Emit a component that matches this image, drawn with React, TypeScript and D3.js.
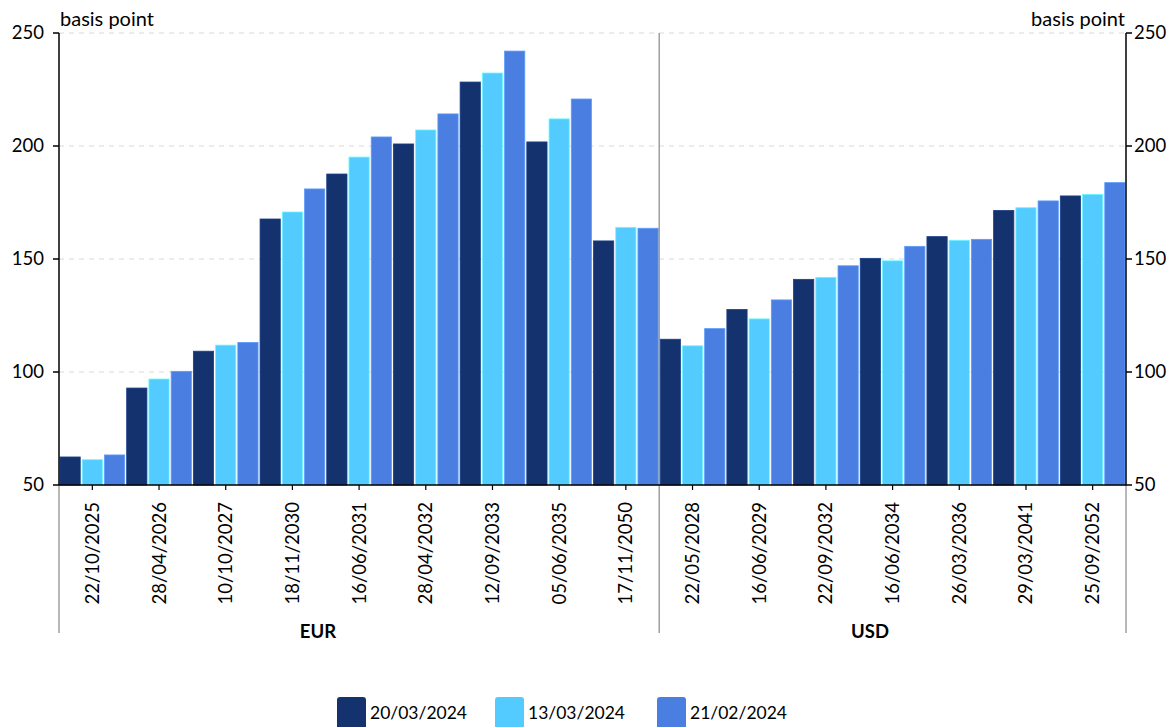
import React from "react";
import * as d3 from "d3";

const eurCategories = ["22/10/2025", "28/04/2026", "10/10/2027", "18/11/2030", "16/06/2031", "28/04/2032", "12/09/2033", "05/06/2035", "17/11/2050"];
const usdCategories = ["22/05/2028", "16/06/2029", "22/09/2032", "16/06/2034", "26/03/2036", "29/03/2041", "25/09/2052"];
const groupNames = ["EUR", "USD"];
const seriesNames = ["20/03/2024", "13/03/2024", "21/02/2024"];
const seriesColors = ["#14326e", "#54cbff", "#4a7ee0"];

const eur20Mar = [62.4, 92.9, 109.2, 167.7, 187.6, 200.9, 228.3, 201.8, 158];
const eur13Mar = [61.2, 96.9, 111.9, 170.8, 195.1, 207.1, 232.3, 212, 164];
const eur21Feb = [63.3, 100.3, 113.1, 181, 204, 214.2, 242, 220.8, 163.6];
const usd20Mar = [114.5, 127.7, 141, 150.3, 159.9, 171.5, 177.9];
const usd13Mar = [111.6, 123.5, 141.9, 149.2, 158.3, 172.7, 178.6];
const usd21Feb = [119.2, 131.9, 147, 155.6, 158.7, 175.7, 183.8];
const yTicks = [50, 100, 150, 200, 250];

export default function App() {
  const W = 1176, H = 727;
  const left = 59, right = 1126, top = 33, bottom = 485, groupBottom = 633;
  const font = "Lato, 'Open Sans', sans-serif";

  const rows = [
    ...eurCategories.map((c, i) => ({ key: "EUR|" + c, label: c, vals: [eur20Mar[i], eur13Mar[i], eur21Feb[i]] })),
    ...usdCategories.map((c, i) => ({ key: "USD|" + c, label: c, vals: [usd20Mar[i], usd13Mar[i], usd21Feb[i]] })),
  ];
  const x = d3.scaleBand<string>().domain(rows.map(r => r.key)).range([left, right]).padding(0);
  const xs = d3.scaleBand<number>().domain([0, 1, 2]).range([0, x.bandwidth()]).padding(0);
  const y = d3.scaleLinear().domain([50, 250]).range([bottom, top]);

  const divX = x("USD|" + usdCategories[0]) as number;
  const groupLabelX = [318, 870];

  return (
    <svg width={W} height={H} style={{ position: "absolute", left: 0, top: 0, background: "#fff" }} fontFamily={font}>
      {yTicks.filter(t => t > 50).map(t => (
        <line key={"g" + t} x1={left} x2={right} y1={y(t)} y2={y(t)} stroke="#d9d9d9" strokeDasharray="5,5" strokeWidth={1} />
      ))}
      {rows.map(r => (
        <g key={r.key} transform={`translate(${x(r.key)},0)`}>
          {r.vals.map((v, i) => (
            <rect key={i} x={(xs(i) as number) + 1} width={xs.bandwidth() - 2} y={y(v)} height={y(50) - y(v)}
              fill={seriesColors[i]} stroke={d3.color(seriesColors[i])!.brighter(0.6).toString()} strokeWidth={0.8} />
          ))}
        </g>
      ))}
      <line x1={left} x2={left} y1={bottom} y2={groupBottom} stroke="#888" strokeWidth={1.2} />
      <line x1={divX} x2={divX} y1={top} y2={groupBottom} stroke="#888" strokeWidth={1.2} />
      <line x1={right} x2={right} y1={bottom} y2={groupBottom} stroke="#888" strokeWidth={1.2} />
      <line x1={left} x2={left} y1={top} y2={bottom} stroke="#000" strokeWidth={1.5} />
      <line x1={right} x2={right} y1={top} y2={bottom} stroke="#000" strokeWidth={1.5} />
      <line x1={left} x2={right} y1={bottom} y2={bottom} stroke="#000" strokeWidth={1.5} />
      {yTicks.map(t => (
        <g key={"t" + t}>
          <line x1={left - 6} x2={left} y1={y(t)} y2={y(t)} stroke="#000" strokeWidth={1.5} />
          <text x={left - 15} y={y(t)} dy="0.35em" textAnchor="end" fontSize={18.5} fill="#000">{t}</text>
          <line x1={right} x2={right + 6} y1={y(t)} y2={y(t)} stroke="#000" strokeWidth={1.5} />
          <text x={right + 8} y={y(t)} dy="0.35em" textAnchor="start" fontSize={18.5} fill="#000">{t}</text>
        </g>
      ))}
      <text x={left + 1} y={26} fontSize={20} fill="#000">basis point</text>
      <text x={right - 1} y={26} fontSize={20} textAnchor="end" fill="#000">basis point</text>
      {rows.map(r => {
        const cx = (x(r.key) as number) + x.bandwidth() / 2;
        return (
          <g key={"x" + r.key}>
            <line x1={cx} x2={cx} y1={bottom} y2={bottom + 5} stroke="#000" strokeWidth={1.2} />
            <text transform={`translate(${cx},${bottom + 17}) rotate(-90)`} dy="0.35em" textAnchor="end" fontSize={18.5} fill="#000">{r.label}</text>
          </g>
        );
      })}
      {groupNames.map((g, i) => (
        <text key={g} x={groupLabelX[i]} y={638} textAnchor="middle" fontSize={18.5} fontWeight="bold" fill="#000">{g}</text>
      ))}
      {seriesNames.map((s, i) => {
        const lx = [337, 495, 657][i];
        return (
          <g key={s}>
            <rect x={lx} y={697} width={29} height={32} rx={3} fill={seriesColors[i]} />
            <text x={lx + 33} y={719} fontSize={17.5} fill="#000">{s}</text>
          </g>
        );
      })}
    </svg>
  );
}
